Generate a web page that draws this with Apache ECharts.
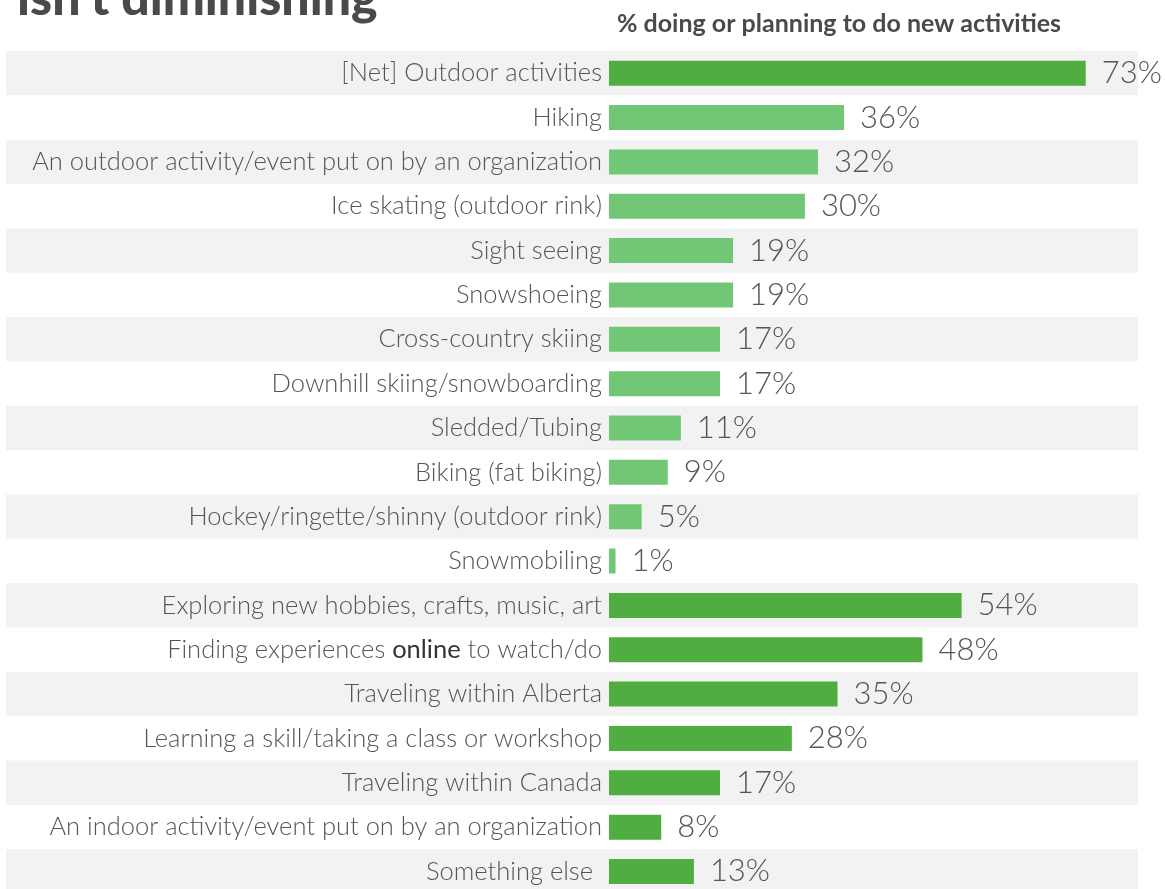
<!DOCTYPE html>
<html><head><meta charset="utf-8">
<script src="https://cdn.jsdelivr.net/npm/echarts@6/dist/echarts.min.js"></script>
<style>html,body{margin:0;padding:0;background:#fff;overflow:hidden}#c{width:1165px;height:900px}</style>
</head><body><div id="c"></div>
<script>
const categories = [
  "[Net] Outdoor activities",
  "Hiking",
  "An outdoor activity/event put on by an organization",
  "Ice skating (outdoor rink)",
  "Sight seeing",
  "Snowshoeing",
  "Cross-country skiing",
  "Downhill skiing/snowboarding",
  "Sledded/Tubing",
  "Biking (fat biking)",
  "Hockey/ringette/shinny (outdoor rink)",
  "Snowmobiling",
  "Exploring new hobbies, crafts, music, art",
  "Finding experiences online to watch/do",
  "Traveling within Alberta",
  "Learning a skill/taking a class or workshop",
  "Traveling within Canada",
  "An indoor activity/event put on by an organization",
  "Something else"
];
const values = [73, 36, 32, 30, 19, 19, 17, 17, 11, 9, 5, 1, 54, 48, 35, 28, 17, 8, 13];
const subItem = [false, true, true, true, true, true, true, true, true, true, true, true, false, false, false, false, false, false, false];
const titleText = "isn't diminishing";
const subtitleText = "% doing or planning to do new activities";

const DARK = '#50ae41', LIGHT = '#72c776', TXT = '#555555';
const FONT = 'Lato, "Open Sans", sans-serif';

const chart = echarts.init(document.getElementById('c'), null, {renderer: 'canvas'});
const TOP = 51, ROWS = categories.length, ROWH = 44.35;
const option = {
  animation: false,
  graphic: [
    {type: 'text', left: 17, top: -26, style: {text: titleText, font: '900 50px ' + FONT, fill: '#4a4a4a'}},
    {type: 'text', left: 617, top: 11, style: {text: subtitleText, font: 'bold 25px ' + FONT, fill: '#4a4a4a'}}
  ],
  grid: [
    {left: 6, width: 1132, top: TOP, height: ROWS * ROWH},
    {left: 609, width: 6.53 * 80, top: TOP, height: ROWS * ROWH}
  ],
  xAxis: [
    {gridIndex: 0, type: 'value', min: 0, max: 1, show: false},
    {gridIndex: 1, type: 'value', min: 0, max: 80, show: false}
  ],
  yAxis: [
    {gridIndex: 0, type: 'category', inverse: true, data: categories,
     axisLine: {show: false}, axisTick: {show: false}, axisLabel: {show: false},
     splitLine: {show: false},
     splitArea: {show: true, areaStyle: {color: ['#f2f2f2', '#ffffff']}}},
    {gridIndex: 1, type: 'category', inverse: true, data: categories,
     axisLine: {show: false}, axisTick: {show: false}, splitLine: {show: false},
     axisLabel: {
       margin: 7, color: TXT, fontFamily: FONT, fontWeight: 300, fontSize: 25.5,
       formatter: function (v) {
         if (v.indexOf(' online ') >= 0) {
           const p = v.split(' online ');
           return p[0] + ' {b|online} ' + p[1];
         }
         if (v === 'Something else') return '{e|' + v + '}';
         return v;
       },
       rich: {
         b: {color: '#333', fontFamily: FONT, fontWeight: 'normal', fontSize: 25.5},
         e: {color: TXT, fontFamily: FONT, fontWeight: 300, fontSize: 25.5, padding: [0, 9, 0, 0]}
       }
     }}
  ],
  series: [
    {type: 'bar', xAxisIndex: 0, yAxisIndex: 0, data: [], silent: true},
    {type: 'bar', xAxisIndex: 1, yAxisIndex: 1, barWidth: 25,
     data: values.map((v, i) => ({value: v, itemStyle: {color: subItem[i] ? LIGHT : DARK}})),
     label: {show: true, position: 'right', distance: 16, formatter: '{c}%',
       color: TXT, fontFamily: FONT, fontWeight: 300, fontSize: 31}}
  ]
};
chart.setOption(option);
</script></body></html>
